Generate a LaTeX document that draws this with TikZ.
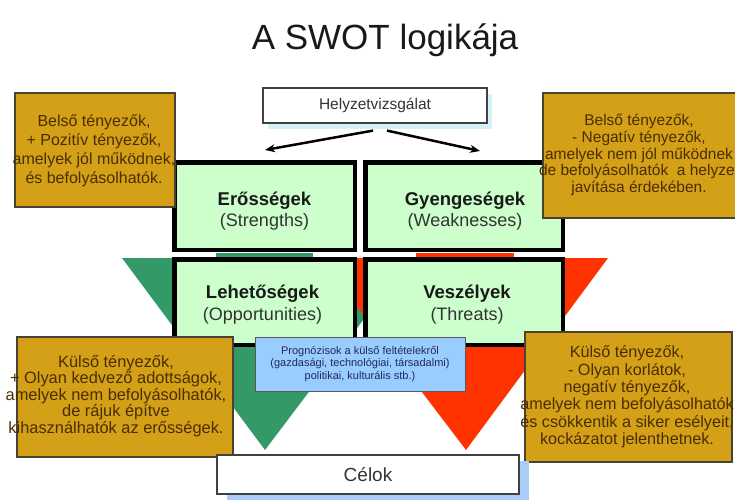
\documentclass[tikz,border=0pt]{standalone}
\usepackage{fontspec}
\setmainfont{Liberation Sans}
\usetikzlibrary{arrows.meta,calc,shadows}
\definecolor{swgreen}{HTML}{CCFFCC}
\definecolor{trigreen}{HTML}{339966}
\definecolor{trired}{HTML}{FF3300}
\definecolor{ochre}{HTML}{D4A017}
\definecolor{ochretext}{HTML}{4A2E00}
\definecolor{ochreline}{HTML}{4A4230}
\definecolor{progblue}{HTML}{99CCFF}
\definecolor{navy}{HTML}{1F2A5C}
\definecolor{shadowblue}{HTML}{A9CDF7}
\definecolor{shadowcyan}{HTML}{D6F0F8}
\definecolor{darktext}{HTML}{333333}
\begin{document}
\begin{tikzpicture}[x=1pt,y=-1pt,
  swotbox/.style={draw=black, line width=4.5pt, fill=swgreen, inner sep=0pt},
  headlbl/.style={anchor=base, font=\bfseries\fontsize{18.5}{22}\selectfont, text=black!90, inner sep=0pt},
  sublbl/.style={anchor=base, font=\fontsize{18}{22}\selectfont, text=darktext, inner sep=0pt},
  ochrebox/.style={draw=ochreline, line width=1.2pt, fill=ochre, inner sep=0pt},
  ochretxt/.style={align=center, text=ochretext, inner sep=0pt},
  progbox/.style={draw=black!65, line width=1pt, fill=progblue, align=center, text=navy,
    font=\fontsize{11}{12.5}\selectfont, minimum width=210pt, minimum height=54pt, inner sep=0pt},
  whitebox/.style={draw=black!75, line width=1.2pt, fill=white, text=darktext, inner sep=0pt},
  harrow/.style={line width=2.5pt, -{Stealth[length=10pt,width=8pt]}}
]
\useasboundingbox (0,0) rectangle (735,500);
\fill[white] (0,0) rectangle (735,500);

% title
\node[anchor=base, font=\fontsize{35}{40}\selectfont, text=black!90] (title) at (385,50) {A SWOT logikája};

% triangles
\fill[trigreen] (122,258) -- (410,258) -- (265,450) -- cycle;
\fill[trired] (320,258) -- (608,258) -- (466,450) -- cycle;
\fill[trigreen] (216,253) rectangle (313,257);
\fill[trired] (416,253) rectangle (514,257);

% SWOT boxes
\node[swotbox, minimum width=180.5pt, minimum height=87.5pt] (S) at (264.5,206) {};
\node[swotbox, minimum width=197.5pt, minimum height=87.5pt] (W) at (464,206) {};
\node[swotbox, minimum width=180.5pt, minimum height=85.5pt] (O) at (264.5,302) {};
\node[swotbox, minimum width=197.5pt, minimum height=85.5pt] (T) at (464,302) {};

\node[headlbl] (Sa) at ($(S.center)+(0,-1)$) {Erősségek};
\node[sublbl]  (Sb) at ($(S.center)+(0,20)$) {(Strengths)};
\node[headlbl] (Wa) at ($(W.center)+(1,-1)$) {Gyengeségek};
\node[sublbl]  (Wb) at ($(W.center)+(1,20)$) {(Weaknesses)};
\node[headlbl] (Oa) at ($(O.center)+(-2,-4)$) {Lehetőségek};
\node[sublbl]  (Ob) at ($(O.center)+(-2,18)$) {(Opportunities)};
\node[headlbl] (Ta) at ($(T.center)+(3,-4)$) {Veszélyek};
\node[sublbl]  (Tb) at ($(T.center)+(3,18)$) {(Threats)};

% forecast box
\node[progbox] (P) at (360,364) {Prognózisok a külső feltételekről\\(gazdasági, technológiai, társadalmi)\\politikai, kulturális stb.)};

% ochre boxes
\node[ochrebox, minimum width=160pt, minimum height=114pt] (B1) at (95,150) {};
\node[ochrebox, minimum width=198pt, minimum height=125pt] (B2) at (642,155.5) {};
\node[ochrebox, minimum width=216pt, minimum height=120pt] (B3) at (125,397) {};
\node[ochrebox, minimum width=207pt, minimum height=130pt] (B4) at (628.5,397) {};

\node[ochretxt, font=\fontsize{16}{19}\selectfont] (B1t) at (94,151)
  {Belső tényezők,\\+ Pozitív tényezők,\\amelyek jól működnek,\\és befolyásolhatók.};
\node[ochretxt, font=\fontsize{15.5}{16.7}\selectfont] (B2t) at (639,155)
  {Belső tényezők,\\- Negatív tényezők,\\amelyek nem jól működnek\\de befolyásolhatók\ \ a helyzet\\javítása érdekében.};
\node[ochretxt, font=\fontsize{16.4}{16.6}\selectfont] (B3t) at (116,396)
  {Külső tényezők,\\+ Olyan kedvező adottságok,\\amelyek nem  befolyásolhatók,\\de  rájuk építve\\kihasználhatók az erősségek.};
\node[ochretxt, font=\fontsize{16.2}{17.4}\selectfont] (B4t) at (627,397)
  {Külső tényezők,\\- Olyan korlátok,\\negatív tényezők,\\amelyek nem  befolyásolhatók\\és csökkentik a siker esélyeit,\\kockázatot jelenthetnek.};

% goals box
\node[whitebox, font=\fontsize{19}{22}\selectfont, minimum width=302pt, minimum height=39pt,
  drop shadow={shadow xshift=10pt, shadow yshift=-6pt, fill=shadowblue, opacity=1}] (C) at (368,474.5) {Célok};

% situation analysis box
\node[whitebox, font=\fontsize{15.5}{18}\selectfont, minimum width=224pt, minimum height=35pt,
  drop shadow={shadow xshift=5pt, shadow yshift=-6pt, fill=shadowcyan, opacity=1}] (H) at (375,105.5) {Helyzetvizsgálat};

% arrows
\draw[harrow] ($(H.south)+(-2,7)$) -- ($(S.north)+(0.5,-10)$);
\draw[harrow] ($(H.south)+(12,7)$) -- ($(W.north)+(16,-9)$);
\end{tikzpicture}
\end{document}
